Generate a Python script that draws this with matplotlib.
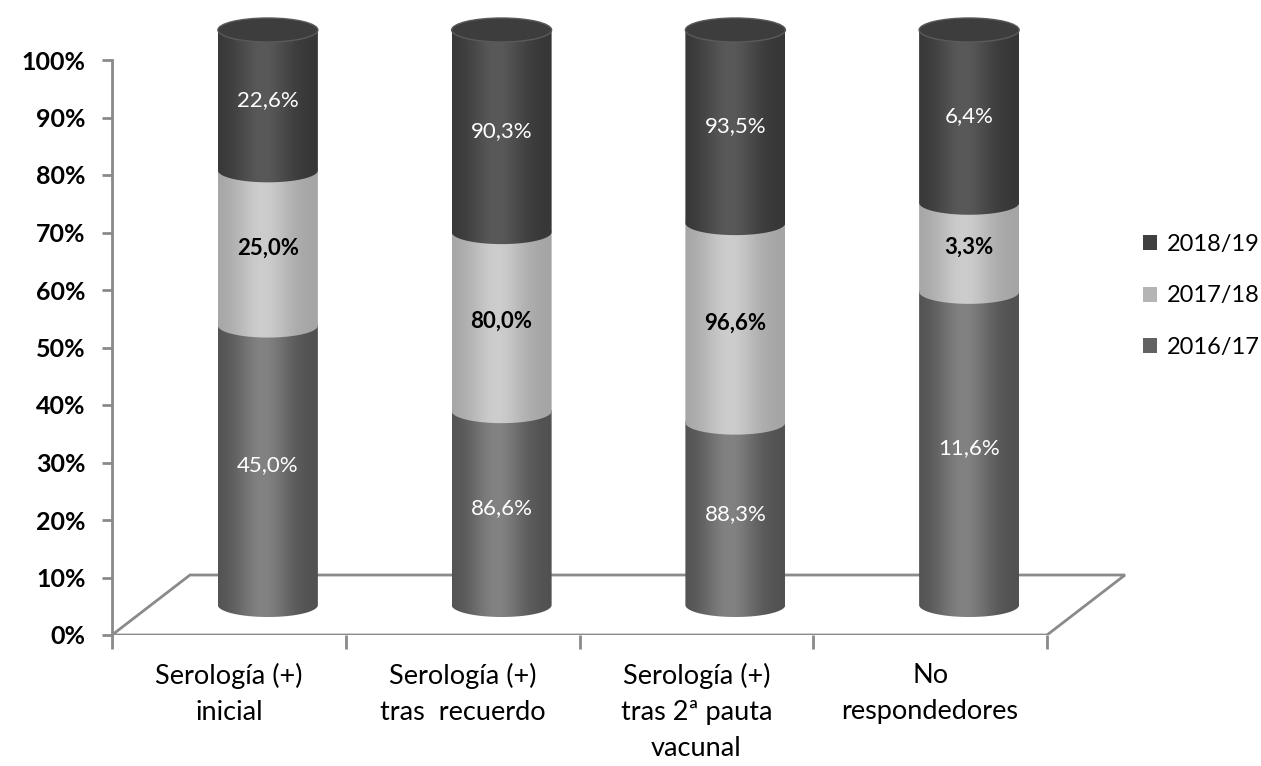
import numpy as np
import matplotlib
matplotlib.use("Agg")
import matplotlib.pyplot as plt
from matplotlib.path import Path
from matplotlib.patches import PathPatch, Ellipse, Polygon, Patch
from matplotlib.colors import to_rgb

plt.rcParams['font.family'] = ['Lato', 'DejaVu Sans']

# ---- data ----
categories = ['Serología (+)\ninicial', 'Serología (+)\ntras  recuerdo',
              'Serología (+)\ntras 2ª pauta\nvacunal', 'No\nrespondedores']
series_names = ['2016/17', '2017/18', '2018/19']
s2016_17 = [45.0, 86.6, 88.3, 11.6]
s2017_18 = [25.0, 80.0, 96.6, 3.3]
s2018_19 = [22.6, 90.3, 93.5, 6.4]
yticks = [0, 10, 20, 30, 40, 50, 60, 70, 80, 90, 100]

# ---- styles ----
edge_cols = ['#505050', '#a4a4a4', '#363636']
mid_cols = ['#828282', '#cdcdcd', '#595959']
legend_cols = ['#626262', '#b4b4b4', '#404040']
label_cols = ['white', 'black', 'white']
label_weights = ['normal', 'bold', 'normal']
axis_col = '#8a8a8a'

W, H = 1261, 766
fig = plt.figure(figsize=(W / 100, H / 100), dpi=100)
x_px = 233.75  # px per category
y_px = 5.75    # px per percent
left_px, right_px, bot_px, top_px = 112, 1135, 635, 8
ax = fig.add_axes([left_px / W, (H - bot_px) / H, (right_px - left_px) / W, (bot_px - top_px) / H])
ax.set_xlim(-0.5, -0.5 + (right_px - left_px) / x_px)
ax.set_ylim(0, (bot_px - top_px) / y_px)

n = len(categories)
depth_dx = 78 / x_px
depth_dy = 60 / y_px
cyl_dx = depth_dx / 2
cyl_dy = depth_dy / 2
cyl_w = 100 / x_px
ell_h = 24 / y_px

# floor
floor = Polygon([(-0.5, 0), (n - 0.5, 0), (n - 0.5 + depth_dx, depth_dy), (-0.5 + depth_dx, depth_dy)],
                closed=True, facecolor='white', edgecolor=axis_col, lw=2, zorder=1)
ax.add_patch(floor)

data = np.array([s2016_17, s2017_18, s2018_19])
shares = data / data.sum(axis=0) * 100


def half_ellipse(cx, cy, lower, npts=60):
    if lower:
        t = np.linspace(np.pi, 2 * np.pi, npts)
    else:
        t = np.linspace(0, np.pi, npts)
    return np.column_stack([cx + cyl_w / 2 * np.cos(t), cy + ell_h / 2 * np.sin(t)])


def gradient_img(c_edge, c_mid, N=200):
    u = np.linspace(0, 1, N)
    e = np.array(to_rgb(c_edge)); m = np.array(to_rgb(c_mid))
    f = np.exp(-((u - 0.45) / 0.28) ** 2)
    f = f / f.max()
    img = e[None, :] * (1 - f[:, None]) + m[None, :] * f[:, None]
    return img[None, :, :]


z = 3
for i in range(n):
    cx = i + cyl_dx
    bottom = cyl_dy
    for k in range(3):
        h = shares[k, i]
        y0, y1 = bottom, bottom + h
        verts = np.vstack([half_ellipse(cx, y0, True), half_ellipse(cx, y1, False)])
        path = Path(np.vstack([verts, verts[:1]]),
                    [Path.MOVETO] + [Path.LINETO] * (len(verts) - 1) + [Path.CLOSEPOLY])
        patch = PathPatch(path, facecolor='none', edgecolor='none', zorder=z)
        ax.add_patch(patch)
        im = ax.imshow(gradient_img(edge_cols[k], mid_cols[k]), extent=(cx - cyl_w / 2, cx + cyl_w / 2, y0 - ell_h, y1 + ell_h),
                       aspect='auto', origin='lower', zorder=z, interpolation='bilinear')
        im.set_clip_path(patch)
        z += 1
        ax.text(cx, (y0 + y1) / 2, f"{data[k, i]:.1f}%".replace('.', ','), ha='center', va='center',
                color=label_cols[k], fontsize=16, fontweight=label_weights[k], zorder=50)
        bottom = y1
    cap = Ellipse((cx, bottom), cyl_w, ell_h, facecolor='#3d3d3d', edgecolor='#5a5a5a', lw=1, zorder=z)
    ax.add_patch(cap)
    z += 1

# axes styling
for s in ['top', 'right', 'bottom']:
    ax.spines[s].set_visible(False)
ax.spines['left'].set_bounds(0, 100)
ax.spines['left'].set_color(axis_col)
ax.spines['left'].set_linewidth(2)
ax.set_yticks(yticks)
ax.set_yticklabels([f"{t}%" for t in yticks], fontsize=18, fontweight='bold')
ax.tick_params(axis='y', length=7, width=2, color=axis_col, pad=12)
ax.set_xticks(range(n))
ax.set_xticklabels(categories, fontsize=19.5, linespacing=1.55, va='top')
ax.tick_params(axis='x', which='major', length=0, pad=20)
ax.set_xticks(np.arange(-0.5, n, 1.0), minor=True)
ax.tick_params(axis='x', which='minor', length=10, width=2, color=axis_col, direction='out')

handles = [Patch(facecolor=legend_cols[k], edgecolor='none', label=series_names[k]) for k in [2, 1, 0]]
fig.legend(handles=handles, loc='center left', bbox_to_anchor=(1122 / W, 1 - 296 / H), frameon=False,
           fontsize=17, handlelength=0.6, handleheight=0.6, handletextpad=0.4, labelspacing=1.3)

fig.savefig('out.png', dpi=100)
